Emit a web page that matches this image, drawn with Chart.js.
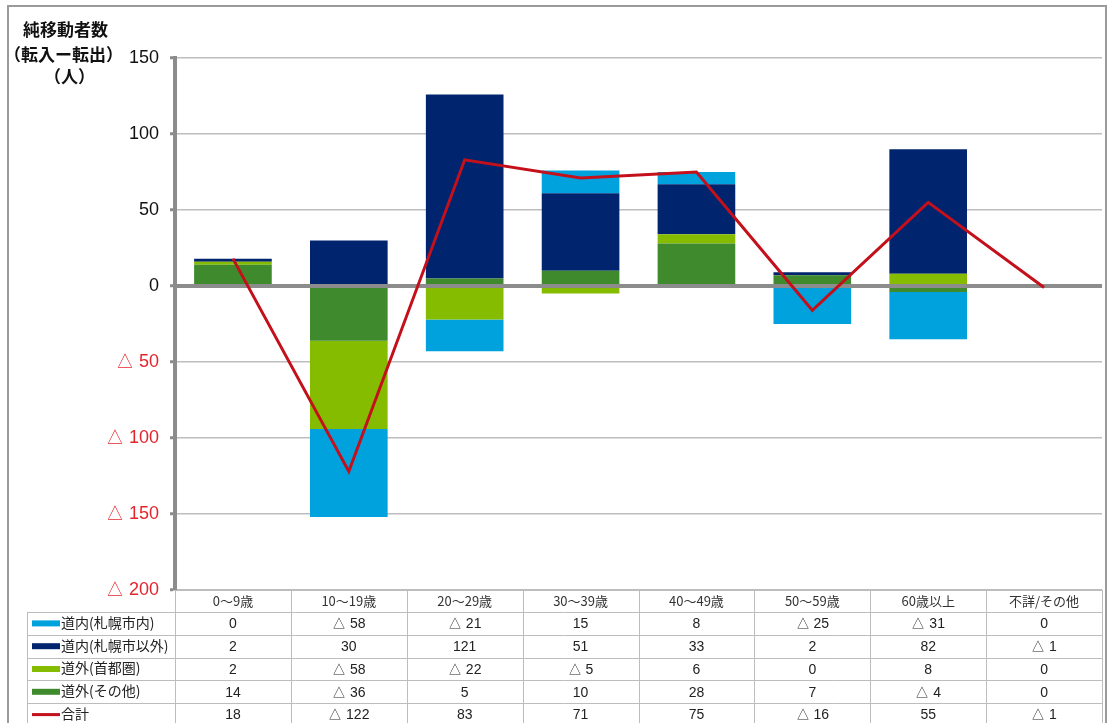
<!DOCTYPE html>
<html lang="ja">
<head>
<meta charset="utf-8">
<title>純移動者数（転入ー転出）</title>
<script src="https://cdn.jsdelivr.net/npm/chart.js@4"></script>
<style>
html, body { margin: 0; padding: 0; background: #fff; }
#wrap { width: 1109px; height: 723px; }
</style>
</head>
<body>
<div id="wrap"><canvas id="chart" width="1109" height="723"></canvas></div>
<script>
// Age groups (columns of the data table)
const categories = ['0～9歳', '10～19歳', '20～29歳', '30～39歳', '40～49歳', '50～59歳', '60歳以上', '不詳/その他'];

// Net migrants by destination (転入 - 転出)
const sapporoIn   = [0, -58, -21, 15, 8, -25, -31, 0];     // 道内(札幌市内)
const sapporoOut  = [2, 30, 121, 51, 33, 2, 82, -1];       // 道内(札幌市以外)
const metropolis  = [2, -58, -22, -5, 6, 0, 8, 0];         // 道外(首都圏)
const otherPref   = [14, -36, 5, 10, 28, 7, -4, 0];        // 道外(その他)
const totals      = [18, -122, 83, 71, 75, -16, 55, -1];   // 合計

// Y axis ticks
const yMin = -200;
const yMax = 150;
const yStep = 50;

const colors = {
    sapporoIn: '#00a2de',
    sapporoOut: '#01246e',
    metropolis: '#86bc00',
    otherPref: '#3e8a2d',
    total: '#c3101b'
};

function fmt(v) {
    return v < 0 ? '△ ' + (-v) : String(v);
}

const jpFont = '"Noto Sans CJK JP", "Noto Sans", sans-serif';
const numFont = '"Liberation Sans", Arial, sans-serif';

// rows of the data table, in legend order
const tableRows = [
    { label: '道内(札幌市内)', color: colors.sapporoIn, values: sapporoIn, line: false },
    { label: '道内(札幌市以外)', color: colors.sapporoOut, values: sapporoOut, line: false },
    { label: '道外(首都圏)', color: colors.metropolis, values: metropolis, line: false },
    { label: '道外(その他)', color: colors.otherPref, values: otherPref, line: false },
    { label: '合計', color: colors.total, values: totals, line: true }
];

// Outer frame and axis title
const framePlugin = {
    id: 'frame',
    beforeDraw(chart) {
        const ctx = chart.ctx;
        ctx.save();
        ctx.fillStyle = '#fff';
        ctx.fillRect(0, 0, chart.width, chart.height);
        ctx.strokeStyle = '#9a9a9a';
        ctx.lineWidth = 2;
        ctx.strokeRect(8, 6, 1098, 740);
        ctx.fillStyle = '#111';
        ctx.font = 'bold 17px ' + jpFont;
        ctx.textBaseline = 'middle';
        ctx.textAlign = 'left';
        ctx.fillText('純移動者数', 23, 30);
        ctx.fillText('（転入ー転出）', 4, 55);
        ctx.fillText('（人）', 44, 77);
        ctx.restore();
    }
};

// Thick zero line, drawn over the bars and under the total line
const zeroLinePlugin = {
    id: 'zeroLine',
    beforeDatasetDraw(chart, args) {
        if (args.index !== 4) return;
        const ctx = chart.ctx;
        const area = chart.chartArea;
        const y = chart.scales.y.getPixelForValue(0);
        ctx.save();
        ctx.strokeStyle = '#8c8c8c';
        ctx.lineWidth = 4;
        ctx.beginPath();
        ctx.moveTo(area.left, y);
        ctx.lineTo(area.right, y);
        ctx.stroke();
        ctx.restore();
    }
};

// Data table under the plot
const tablePlugin = {
    id: 'dataTable',
    afterDraw(chart) {
        const ctx = chart.ctx;
        const area = chart.chartArea;
        const xScale = chart.scales.x;
        const top = area.bottom;
        const headH = 22;
        const rowH = 22.8;
        const labelLeft = 27;
        const colW = (area.right - area.left) / categories.length;
        const bottom = top + headH + rowH * tableRows.length;

        ctx.save();
        ctx.strokeStyle = '#bdbdbd';
        ctx.lineWidth = 1;

        // horizontal lines
        ctx.beginPath();
        ctx.moveTo(area.left, top + 0.5);
        ctx.lineTo(area.right, top + 0.5);
        for (let r = 0; r <= tableRows.length; r++) {
            const y = Math.round(top + headH + r * rowH) + 0.5;
            ctx.moveTo(labelLeft, y);
            ctx.lineTo(area.right, y);
        }
        // vertical lines
        ctx.moveTo(labelLeft + 0.5, top + headH);
        ctx.lineTo(labelLeft + 0.5, bottom);
        for (let i = 0; i <= categories.length; i++) {
            const x = Math.round(area.left + i * colW) + 0.5;
            ctx.moveTo(x, top);
            ctx.lineTo(x, bottom);
        }
        ctx.stroke();

        // header labels
        ctx.textAlign = 'center';
        ctx.textBaseline = 'middle';
        ctx.fillStyle = '#333';
        ctx.font = '13px ' + jpFont;
        categories.forEach((c, i) => {
            ctx.fillText(c, xScale.getPixelForValue(i), top + headH / 2);
        });

        // rows
        tableRows.forEach((row, r) => {
            const cy = top + headH + r * rowH + rowH / 2;
            ctx.fillStyle = row.color;
            if (row.line) {
                ctx.fillRect(32, cy - 1.5, 28, 3);
            } else {
                ctx.fillRect(32, cy - 3, 28, 6);
            }
            ctx.fillStyle = '#222';
            ctx.textAlign = 'left';
            ctx.font = '14px ' + jpFont;
            ctx.fillText(row.label, 61, cy - 1);
            ctx.textAlign = 'center';
            ctx.font = '14px ' + numFont;
            row.values.forEach((v, i) => {
                ctx.fillText(fmt(v), xScale.getPixelForValue(i), cy + 1);
            });
        });
        ctx.restore();
    }
};

const barOpts = {
    type: 'bar',
    stack: 'bars',
    barPercentage: 0.67,
    categoryPercentage: 1.0,
    borderWidth: 0,
    order: 1
};

new Chart(document.getElementById('chart').getContext('2d'), {
    type: 'bar',
    data: {
        labels: categories,
        datasets: [
            // stacking order from zero outward: その他, 首都圏, 札幌市以外, 札幌市内
            Object.assign({ label: '道外(その他)', data: otherPref, backgroundColor: colors.otherPref }, barOpts),
            Object.assign({ label: '道外(首都圏)', data: metropolis, backgroundColor: colors.metropolis }, barOpts),
            Object.assign({ label: '道内(札幌市以外)', data: sapporoOut, backgroundColor: colors.sapporoOut }, barOpts),
            Object.assign({ label: '道内(札幌市内)', data: sapporoIn, backgroundColor: colors.sapporoIn }, barOpts),
            {
                type: 'line',
                label: '合計',
                data: totals,
                stack: 'total',
                borderColor: colors.total,
                backgroundColor: colors.total,
                borderWidth: 3,
                pointRadius: 0,
                tension: 0,
                order: 0
            }
        ]
    },
    options: {
        responsive: false,
        animation: false,
        devicePixelRatio: 1,
        layout: {
            padding: { left: 0, top: 58, right: 7, bottom: 133 }
        },
        plugins: {
            legend: { display: false },
            tooltip: { enabled: false }
        },
        scales: {
            x: {
                display: false,
                stacked: true
            },
            y: {
                stacked: true,
                min: yMin,
                max: yMax,
                afterFit(scale) {
                    scale.width = 175;
                },
                ticks: {
                    stepSize: yStep,
                    padding: 11,
                    font: { size: 18, family: numFont },
                    color: ctx => ctx.tick && ctx.tick.value < 0 ? '#e3262e' : '#111',
                    callback: v => fmt(v)
                },
                grid: {
                    color: '#bdbdbd',
                    lineWidth: 1.5,
                    drawTicks: true,
                    tickLength: 5,
                    tickColor: '#8c8c8c',
                    tickWidth: 3
                },
                border: {
                    color: '#8c8c8c',
                    width: 4
                }
            }
        }
    },
    plugins: [framePlugin, zeroLinePlugin, tablePlugin]
});
</script>
</body>
</html>
